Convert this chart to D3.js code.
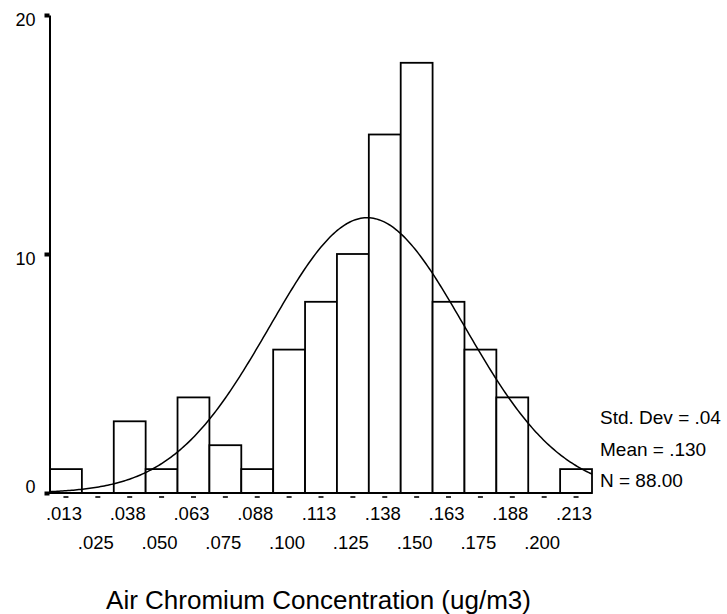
<!DOCTYPE html>
<html>
<head>
<meta charset="utf-8">
<script src="https://cdn.jsdelivr.net/npm/d3@7"></script>
<style>
  html, body { margin: 0; padding: 0; background: #fff; }
  svg { display: block; font-family: "Liberation Sans", Arial, sans-serif; }
</style>
</head>
<body>
<svg id="chart" width="727" height="614"></svg>
<script>
// Histogram bins: midpoints, printed labels and counts
const binMids   = [0.0125, 0.025, 0.0375, 0.05, 0.0625, 0.075, 0.0875, 0.1, 0.1125, 0.125, 0.1375, 0.15, 0.1625, 0.175, 0.1875, 0.2, 0.2125];
const binLabels = [".013", ".025", ".038", ".050", ".063", ".075", ".088", ".100", ".113", ".125", ".138", ".150", ".163", ".175", ".188", ".200", ".213"];
const counts    = [1, 0, 3, 1, 4, 2, 1, 6, 8, 10, 15, 18, 8, 6, 4, 0, 1];
const binWidth  = 0.0125;

// Y axis ticks
const yTicks = [0, 10, 20];

// Summary statistics shown beside the plot
const statLines = ["Std. Dev = .04", "Mean = .130", "N = 88.00"];
const sampleN   = 88;
const curveMean = 0.1306;
const curveSd   = 0.0381;

const axisTitle = "Air Chromium Concentration (ug/m3)";

const svg = d3.select("#chart");

const x = d3.scaleLinear()
  .domain([binMids[0] - binWidth / 2, binMids[binMids.length - 1] + binWidth / 2])
  .range([50, 592]);
const y = d3.scaleLinear().domain([0, 20]).range([493, 15]);

// Bars (empty bins draw nothing)
svg.append("g")
  .selectAll("rect")
  .data(binMids.map((m, i) => ({ m, c: counts[i] })).filter(d => d.c > 0))
  .join("rect")
  .attr("x", d => x(d.m - binWidth / 2))
  .attr("width", d => x(d.m + binWidth / 2) - x(d.m - binWidth / 2))
  .attr("y", d => y(d.c))
  .attr("height", d => y(0) - y(d.c))
  .attr("fill", "#fff")
  .attr("stroke", "#000")
  .attr("stroke-width", 1.8);

// Fitted normal curve, scaled to counts per bin
const pdf = v => Math.exp(-0.5 * Math.pow((v - curveMean) / curveSd, 2)) / (curveSd * Math.sqrt(2 * Math.PI));
const [x0, x1] = x.domain();
const curvePts = d3.range(0, 301).map(k => x0 + (x1 - x0) * k / 300);
svg.append("path")
  .datum(curvePts)
  .attr("fill", "none")
  .attr("stroke", "#000")
  .attr("stroke-width", 1.5)
  .attr("d", d3.line().x(v => x(v)).y(v => y(sampleN * binWidth * pdf(v))));

// Y axis
const yAxis = svg.append("g")
  .attr("transform", "translate(49.5,0)")
  .call(d3.axisLeft(y).tickValues(yTicks).tickSize(5).tickSizeOuter(0).tickFormat(d3.format("d")));
yAxis.select(".domain").attr("stroke", "#000").attr("stroke-width", 2);
yAxis.selectAll(".tick line").attr("stroke", "#000").attr("stroke-width", 4);
yAxis.selectAll(".tick text")
  .attr("font-size", 18)
  .attr("font-family", "Liberation Sans, Arial, sans-serif")
  .attr("fill", "#000")
  .attr("x", -14)
  .attr("dy", null)
  .attr("y", d => Math.min(9, y(0) - y(d) - 1) - (d === 0 ? 0 : 0));
// the zero label sits just above the baseline
yAxis.selectAll(".tick text").attr("y", d => d === 0 ? -1 : 10);

// X axis baseline
svg.append("line")
  .attr("x1", 45).attr("x2", x(x1))
  .attr("y1", y(0)).attr("y2", y(0))
  .attr("stroke", "#000").attr("stroke-width", 2);

// Short dashes under each bin midpoint
svg.append("g")
  .selectAll("line")
  .data(binMids)
  .join("line")
  .attr("x1", m => x(m) - 2.5)
  .attr("x2", m => x(m) + 2.5)
  .attr("y1", y(0) + 4)
  .attr("y2", y(0) + 4)
  .attr("stroke", "#000")
  .attr("stroke-width", 1.6);

// Bin labels on two staggered rows
svg.append("g")
  .selectAll("text")
  .data(binMids)
  .join("text")
  .attr("x", m => x(m) - 2)
  .attr("y", (m, i) => i % 2 === 0 ? 520 : 549)
  .attr("text-anchor", "middle")
  .attr("font-size", 18.5)
  .attr("fill", "#000")
  .text((m, i) => binLabels[i]);

// Summary statistics
svg.append("g")
  .selectAll("text")
  .data(statLines)
  .join("text")
  .attr("x", 600)
  .attr("y", (d, i) => 424 + i * 31.5)
  .attr("font-size", 19)
  .attr("fill", "#000")
  .text(d => d);

// Axis title
svg.append("text")
  .attr("x", 318.5)
  .attr("y", 609)
  .attr("text-anchor", "middle")
  .attr("font-size", 26)
  .attr("fill", "#000")
  .text(axisTitle);
</script>
</body>
</html>
